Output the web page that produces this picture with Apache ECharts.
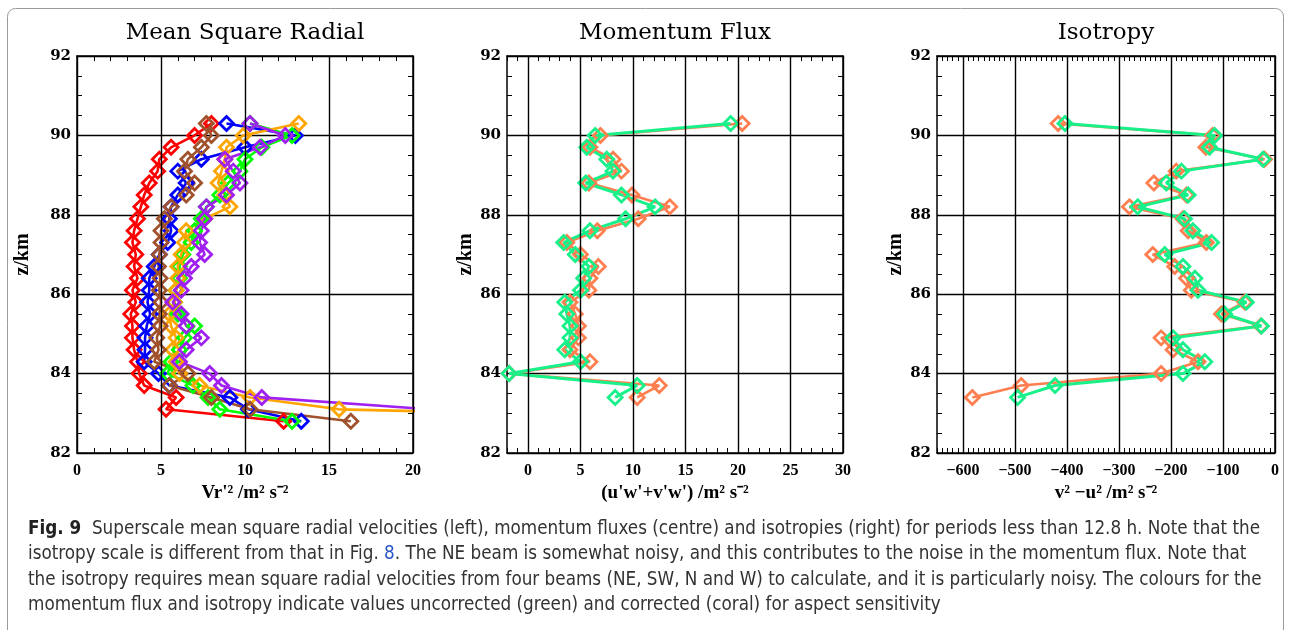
<!DOCTYPE html>
<html>
<head>
<meta charset="utf-8">
<script src="https://cdn.jsdelivr.net/npm/echarts@6/dist/echarts.min.js"></script>
<style>
  html, body { margin: 0; padding: 0; background: #fff; }
  #main { width: 1291px; height: 630px; }
</style>
</head>
<body>
<div id="main"></div>
<script>
// heights (km)
const zRadial = [90.3, 90.0, 89.7, 89.4, 89.1, 88.8, 88.5, 88.2, 87.9, 87.6, 87.3, 87.0, 86.7,
  86.4, 86.1, 85.8, 85.5, 85.2, 84.9, 84.6, 84.3, 84.0, 83.7, 83.4, 83.1, 82.8];
const zFlux = [90.3, 90.0, 89.7, 89.4, 89.1, 88.8, 88.5, 88.2, 87.9, 87.6, 87.3, 87.0, 86.7,
  86.4, 86.1, 85.8, 85.5, 85.2, 84.9, 84.6, 84.3, 84.0, 83.7, 83.4];

// mean square radial velocity, one list per beam
const vrRed = [8.0, 7.0, 5.6, 4.9, 4.8, 4.3, 4.0, 3.8, 3.6, 3.4, 3.3, 3.5, 3.4, 3.6, 3.3, 3.5, 3.2, 3.3, 3.3, 3.4, 3.6, 3.7, 4.0, 5.9, 5.3, 12.3];
const vrBlue = [8.9, 13.0, 10.0, 7.4, 6.0, 6.5, 6.0, 5.6, 5.5, 5.6, 5.4, 4.9, 4.6, 4.3, 4.3, 4.2, 4.35, 4.15, 4.05, 4.05, 4.0, 4.85, 5.5, 9.1, 10.2, 13.35];
const vrGreen = [10.3, 12.8, 11.0, 10.0, 9.7, 9.0, 8.5, 7.7, 7.4, 7.0, 6.8, 6.3, 6.1, 6.1, 5.9, 5.8, 6.0, 7.0, 6.4, 6.1, 5.6, 5.4, 6.9, 7.8, 8.5, 12.8];
const vrOrange = [13.2, 9.9, 8.9, 8.8, 8.6, 8.4, 8.8, 9.1, 7.6, 6.5, 6.4, 6.2, 6.0, 6.0, 5.9, 5.8, 5.5, 5.6, 5.9, 5.7, 5.9, 6.1, 7.3, 10.3, 15.6, 45];
const vrBrown = [7.7, 8.0, 7.4, 6.6, 6.4, 7.0, 6.5, 5.6, 5.2, 5.0, 5.0, 4.9, 4.85, 4.95, 4.9, 5.0, 4.9, 4.95, 4.75, 4.85, 4.6, 6.6, 5.5, 8.0, 10.3, 16.3];
const vrPurple = [10.3, 12.4, 10.9, 8.8, 9.3, 9.7, 8.9, 7.7, 7.6, 7.4, 7.3, 7.6, 6.8, 6.4, 6.2, 5.7, 6.2, 6.5, 7.4, 6.5, 6.1, 7.9, 8.6, 11.0, 21, 35];

// momentum flux: uncorrected (green) and corrected (coral)
const fluxUncorr = [19.3, 6.4, 5.6, 7.5, 8.1, 5.5, 8.9, 12.1, 9.3, 5.9, 3.4, 4.5, 5.8, 5.3, 5.0, 3.5, 3.7, 4.0, 4.0, 3.5, 5.0, -1.8, 10.4, 8.3];
const fluxCorr = [20.4, 6.9, 5.9, 8.1, 8.9, 5.8, 9.9, 13.5, 10.5, 6.6, 3.7, 5.0, 6.7, 5.9, 5.8, 4.0, 4.5, 4.8, 4.8, 4.0, 5.9, -1.8, 12.5, 10.4];

// isotropy
const isoUncorr = [-404, -116, -126, -23, -180, -209, -167, -264, -174, -158, -122, -212, -177, -154, -148, -55, -97, -26, -196, -177, -135, -177, -423, -495];
const isoCorr = [-417, -120, -133, -20, -190, -233, -170, -280, -177, -167, -132, -235, -193, -170, -161, -58, -103, -27, -219, -196, -148, -219, -488, -582];

// tick labels
const radialTicks = [0, 5, 10, 15, 20];
const fluxTicks = [0, 5, 10, 15, 20, 25, 30];
const isoTicks = [-600, -500, -400, -300, -200, -100, 0];

const grids = [
  { left: 77, top: 56, width: 336, height: 397 },
  { left: 507, top: 56, width: 336, height: 397 },
  { left: 937, top: 56, width: 338, height: 397 }
];

const labelFont = { fontFamily: 'Liberation Serif', fontWeight: 'bold', fontSize: 16, color: '#000' };
const axisLine = { show: true, onZero: false, lineStyle: { color: '#000', width: 1.5 } };

function xAxes(g, min, max, step, ticks, name) {
  return [
    {
      type: 'value', gridIndex: g, position: 'bottom', min: min, max: max, interval: step,
      axisLine: axisLine,
      axisTick: { show: true, inside: true, length: 5, lineStyle: { color: '#000', width: 1 } },
      axisLabel: Object.assign({ customValues: ticks, margin: 10,
        formatter: v => String(v).replace('-', '\u2212') }, labelFont),
      splitLine: { show: false },
      name: name, nameLocation: 'middle', nameGap: 30,
      nameTextStyle: { fontFamily: 'Liberation Serif', fontWeight: 'bold', fontSize: 19, color: '#000' }
    },
    {
      type: 'value', gridIndex: g, position: 'top', min: min, max: max, interval: step,
      axisLine: axisLine,
      axisTick: { show: true, inside: true, length: 5, lineStyle: { color: '#000', width: 1 } },
      axisLabel: { show: false },
      splitLine: { show: false }
    }
  ];
}

function yAxes(g, nameGap) {
  const tick = { show: true, inside: true, length: 5, lineStyle: { color: '#000', width: 1 } };
  const minor = { show: true, splitNumber: 4, length: 5, lineStyle: { color: '#000', width: 1 } };
  return [
    {
      type: 'value', gridIndex: g, position: 'left', min: 82, max: 92, interval: 2,
      axisLine: axisLine, axisTick: tick, minorTick: minor,
      axisLabel: { fontFamily: 'DejaVu Serif', fontWeight: 'bold', fontSize: 15, color: '#000', margin: 6 },
      splitLine: { show: true, lineStyle: { color: '#000', width: 1.4 } },
      name: 'z/km', nameLocation: 'middle', nameGap: nameGap, nameRotate: 90,
      nameTextStyle: { fontFamily: 'Liberation Serif', fontWeight: 'bold', fontSize: 20, color: '#000' }
    },
    {
      type: 'value', gridIndex: g, position: 'right', min: 82, max: 92, interval: 2,
      axisLine: axisLine, axisTick: tick, minorTick: minor,
      axisLabel: { show: false }, splitLine: { show: false }
    }
  ];
}

function gridLines(g, ticks) {
  return {
    type: 'line', xAxisIndex: 2 * g, yAxisIndex: 2 * g, data: [], z: 1, silent: true,
    markLine: {
      silent: true, symbol: 'none', animation: false,
      label: { show: false },
      lineStyle: { color: '#000', width: 1.4, type: 'solid' },
      data: ticks.map(v => ({ xAxis: v }))
    }
  };
}

function profile(g, xs, zs, color, lw) {
  return {
    type: 'line', xAxisIndex: 2 * g, yAxisIndex: 2 * g, z: 3,
    data: xs.map((v, i) => [v, zs[i]]),
    symbol: 'diamond', symbolSize: 14, showAllSymbol: true,
    lineStyle: { color: color, width: lw },
    itemStyle: { color: 'rgba(255,255,255,0)', borderColor: color, borderWidth: 2.8 },
    clip: true, animation: false, silent: true
  };
}

const GREEN = '#18f08a';
const CORAL = '#ff7f50';

const titleStyle = { fontFamily: 'DejaVu Serif', fontSize: 23, fill: '#000', textAlign: 'center', textVerticalAlign: 'middle' };

const captionFont = "'Liberation Sans Narrow', 'DejaVu Sans Condensed', 'Noto Sans'";
const captionLines = [
  '{b|Fig. 9}  Superscale mean square radial velocities (left), momentum fluxes (centre) and isotropies (right) for periods less than 12.8 h. Note that the',
  'isotropy scale is different from that in Fig. {l|8}. The NE beam is somewhat noisy, and this contributes to the noise in the momentum flux. Note that',
  'the isotropy requires mean square radial velocities from four beams (NE, SW, N and W) to calculate, and it is particularly noisy. The colours for the',
  'momentum flux and isotropy indicate values uncorrected (green) and corrected (coral) for aspect sensitivity'
];
const captionY = [529, 554, 580, 605];

const chart = echarts.init(document.getElementById('main'), null, { renderer: 'canvas' });

const option = {
  backgroundColor: '#fff',
  animation: false,
  grid: grids.map(g => Object.assign({ containLabel: false }, g)),
  xAxis: [].concat(
    xAxes(0, 0, 20, 1, radialTicks, "Vr'\u00b2 /m\u00b2 s\u207b\u00b2"),
    xAxes(1, -2, 30, 1, fluxTicks, "(u'w'+v'w') /m\u00b2 s\u207b\u00b2"),
    xAxes(2, -650, 0, 10, isoTicks, 'v\u00b2 \u2212u\u00b2 /m\u00b2 s\u207b\u00b2')
  ),
  yAxis: [].concat(yAxes(0, 44), yAxes(1, 30), yAxes(2, 30)),
  series: [
    gridLines(0, radialTicks),
    gridLines(1, fluxTicks),
    gridLines(2, isoTicks),
    profile(0, vrRed, zRadial, '#ff0000', 2.6),
    profile(0, vrBlue, zRadial, '#0000ff', 2.6),
    profile(0, vrGreen, zRadial, '#00ff00', 2.6),
    profile(0, vrOrange, zRadial, '#ffa500', 2.6),
    profile(0, vrBrown, zRadial, '#a0522d', 2.6),
    profile(0, vrPurple, zRadial, '#a020f0', 2.6),
    profile(1, fluxCorr, zFlux, CORAL, 2.6),
    profile(1, fluxUncorr, zFlux, GREEN, 3),
    profile(2, isoCorr, zFlux, CORAL, 2.6),
    profile(2, isoUncorr, zFlux, GREEN, 3)
  ],
  graphic: [
    {
      type: 'rect', z: -10, silent: true,
      shape: { x: 7.5, y: 8.5, width: 1276, height: 660, r: 8 },
      style: { fill: 'none', stroke: '#9a9a9a', lineWidth: 1 }
    },
    { type: 'text', x: 245, y: 33, style: Object.assign({ text: 'Mean Square Radial' }, titleStyle) },
    { type: 'text', x: 675, y: 33, style: Object.assign({ text: 'Momentum Flux' }, titleStyle) },
    { type: 'text', x: 1106, y: 33, style: Object.assign({ text: 'Isotropy' }, titleStyle) }
  ].concat(captionLines.map((t, i) => ({
    type: 'text', x: 28, y: captionY[i], silent: true,
    style: {
      text: t, textVerticalAlign: 'middle',
      fontFamily: captionFont, fontSize: 18.7, fill: '#333',
      rich: {
        b: { fontFamily: captionFont, fontWeight: 'bold', fontSize: 18.7, fill: '#222' },
        l: { fontFamily: captionFont, fontSize: 18.7, fill: '#2a55c8' }
      }
    }
  })))
};

chart.setOption(option);
</script>
</body>
</html>
